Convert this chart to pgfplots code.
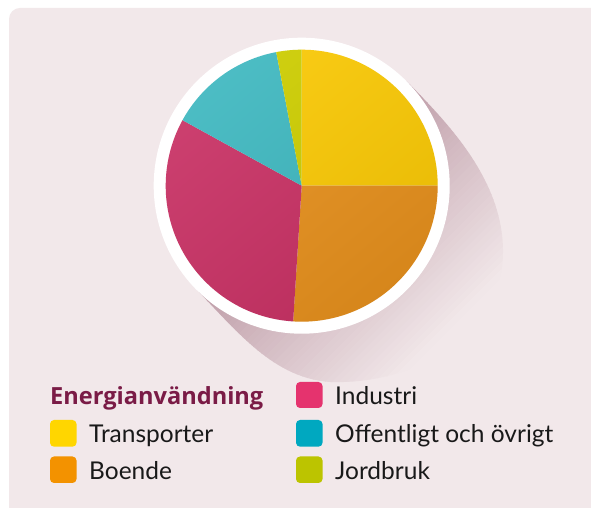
\documentclass[border=0pt]{standalone}
\usepackage{pgfplots}
\pgfplotsset{compat=1.18}
\usepackage{pgfplotstable}
\usepackage{fontspec}
\setmainfont{Lato}
\newfontfamily\ttlfont{Open Sans}
\definecolor{bg}{RGB}{242,232,234}
\definecolor{sh}{RGB}{190,156,167}
\definecolor{ttl}{RGB}{122,27,70}
\definecolor{txt}{RGB}{25,25,25}
\definecolor{cTr}{RGB}{250,201,5}
\definecolor{cBo}{RGB}{231,145,30}
\definecolor{cIn}{RGB}{201,50,101}
\definecolor{cOf}{RGB}{63,184,192}
\definecolor{cJo}{RGB}{205,205,0}
\definecolor{lTr}{RGB}{255,214,0}
\definecolor{lBo}{RGB}{243,146,0}
\definecolor{lIn}{RGB}{229,51,110}
\definecolor{lOf}{RGB}{0,168,192}
\definecolor{lJo}{RGB}{188,196,0}
\pgfplotstableread{
cat value
Transporter 25
Boende 26
Industri 32
Offentligt 14
Jordbruk 3
}\piedata
\pgfplotstablegetelem{0}{value}\of\piedata \let\vA\pgfplotsretval
\pgfplotstablegetelem{1}{value}\of\piedata \let\vB\pgfplotsretval
\pgfplotstablegetelem{2}{value}\of\piedata \let\vC\pgfplotsretval
\pgfplotstablegetelem{3}{value}\of\piedata \let\vD\pgfplotsretval
\pgfplotstablegetelem{4}{value}\of\piedata \let\vE\pgfplotsretval
\pgfmathsetmacro{\aA}{90}
\pgfmathsetmacro{\aB}{\aA-3.6*\vA}
\pgfmathsetmacro{\aC}{\aB-3.6*\vB}
\pgfmathsetmacro{\aD}{\aC-3.6*\vC}
\pgfmathsetmacro{\aE}{\aD-3.6*\vD}
\pgfmathsetmacro{\aF}{\aE-3.6*\vE}
\def\cx{301.7}\def\cy{322.3}
\begin{document}
\begin{tikzpicture}
\begin{axis}[x=1pt,y=1pt,xmin=0,xmax=591,ymin=0,ymax=508,
  hide axis, clip=false, enlargelimits=false]
\pgfplotsextra{%
% background
\fill[white] (axis cs:0,0) rectangle (axis cs:591,508);
\fill[bg] (axis cs:9,0) -- (axis cs:9,489) arc[start angle=180,end angle=90,radius=11pt] -- (axis cs:591,500) -- (axis cs:591,0) -- cycle;
% long shadow
\begin{scope}
\clip (axis cs:197,218) .. controls (axis cs:240,173) and (axis cs:275,130) .. (axis cs:330,126)
  .. controls (axis cs:420,123) and (axis cs:504,178) .. (axis cs:503,258)
  .. controls (axis cs:502,328) and (axis cs:450,383) .. (axis cs:406.4,427)
  -- (axis cs:\cx,\cy) -- cycle;
\begin{scope}[shift={(axis cs:\cx,\cy)}, rotate=-45]
\foreach \u in {0,5,...,200}{
  \pgfmathtruncatemacro{\p}{max(0,100*(1-\u/205))}
  \fill[sh!\p!bg] ({\u*1pt},-300pt) rectangle ({(\u+5.5)*1pt},300pt);
}
\end{scope}
\end{scope}
% white ring
\fill[white] (axis cs:\cx,\cy) circle[radius=148pt];
% slices
\fill[cTr] (axis cs:\cx,\cy) -- ++(\aA:136pt) arc[start angle=\aA, end angle=\aB, radius=136pt] -- cycle;
\fill[cBo] (axis cs:\cx,\cy) -- ++(\aB:136pt) arc[start angle=\aB, end angle=\aC, radius=136pt] -- cycle;
\fill[cIn] (axis cs:\cx,\cy) -- ++(\aC:136pt) arc[start angle=\aC, end angle=\aD, radius=136pt] -- cycle;
\fill[cOf] (axis cs:\cx,\cy) -- ++(\aD:136pt) arc[start angle=\aD, end angle=\aE, radius=136pt] -- cycle;
\fill[cJo] (axis cs:\cx,\cy) -- ++(\aE:136pt) arc[start angle=\aE, end angle=\aF, radius=136pt] -- cycle;
\shade[top color=white, bottom color=black, shading angle=40, fill opacity=0.07] (axis cs:\cx,\cy) circle[radius=136pt];
% legend
\node[anchor=base west, inner sep=0, text=ttl, font=\ttlfont\fontsize{23.6}{27}\selectfont\bfseries] at (axis cs:50,103.3) {Energianvändning};
\fill[lTr, rounded corners=4pt] (axis cs:50,61.3) rectangle (axis cs:76.5,88);
\fill[lBo, rounded corners=4pt] (axis cs:50,25) rectangle (axis cs:76.5,51.5);
\fill[lIn, rounded corners=4pt] (axis cs:296,100) rectangle (axis cs:322.5,126);
\fill[lOf, rounded corners=4pt] (axis cs:296,61.3) rectangle (axis cs:322.5,88);
\fill[lJo, rounded corners=4pt] (axis cs:296,25) rectangle (axis cs:322.5,51.5);
\begin{scope}[every node/.style={anchor=base west, inner sep=0, text=txt, font=\fontsize{24.5}{28}\selectfont}]
\node at (axis cs:89,65.3) {Transporter};
\node at (axis cs:89,28) {Boende};
\node at (axis cs:335,103) {Industri};
\node at (axis cs:335,65.3) {Offentligt och övrigt};
\node at (axis cs:335,28) {Jordbruk};
\end{scope}
}
\end{axis}
\end{tikzpicture}
\end{document}
